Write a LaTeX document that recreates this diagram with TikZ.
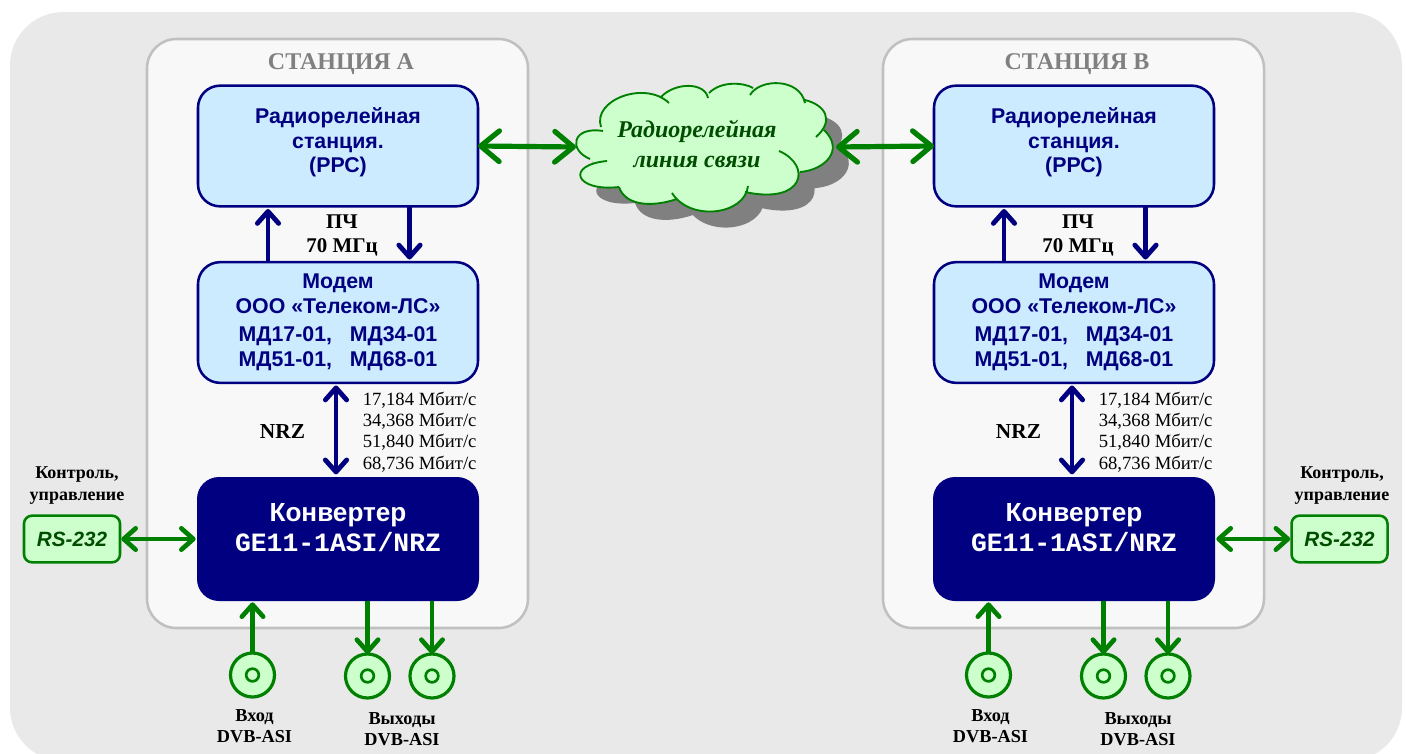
\documentclass[tikz,border=0pt]{standalone}
\usepackage{fontspec}
\setmainfont{Liberation Serif}
\setsansfont{Liberation Sans}
\setmonofont{Liberation Mono}
\usetikzlibrary{calc,arrows.meta}
\definecolor{backgray}{HTML}{E9E9E9}
\definecolor{panelgray}{HTML}{F8F8F8}
\definecolor{panelline}{HTML}{C0C0C0}
\definecolor{boxblue}{HTML}{CCEBFF}
\definecolor{boxnavy}{HTML}{000080}
\definecolor{lightgreen}{HTML}{CCFFCC}
\definecolor{linegreen}{HTML}{008000}
\definecolor{darkgreen}{HTML}{004D00}
\def\fs#1{\fontsize{#1}{#1}\selectfont}
\tikzset{
	unitbox/.style={draw=boxnavy, fill=boxblue, line width=1.9pt, rounded corners=16.5pt, minimum width=210pt, minimum height=90.5pt, outer sep=0pt},
	convbox/.style={fill=boxnavy, rounded corners=16.5pt, minimum width=211.5pt, minimum height=93pt, outer sep=0pt},
	rsbox/.style={draw=linegreen, fill=lightgreen, line width=1.9pt, rounded corners=6pt, minimum width=72pt, minimum height=35pt, outer sep=0pt},
	coaxout/.style={circle, draw=linegreen, fill=lightgreen, line width=2.4pt, minimum size=33pt, inner sep=0pt, outer sep=0pt},
	coaxin/.style={circle, draw=linegreen, line width=2pt, minimum size=9.5pt, inner sep=0pt},
	bluetext/.style={align=center, text=boxnavy, font=\sffamily\bfseries\fs{16pt}, inner sep=0pt},
	labeltext/.style={align=center, font=\bfseries\fs{13.7pt}, inner sep=0pt},
	ratetext/.style={anchor=west, font=\fs{14pt}, inner sep=0pt},
	bluelink/.style={draw=boxnavy, line width=3.6pt},
	greenlink/.style={draw=linegreen, line width=3.5pt},
	biglink/.style={draw=linegreen, line width=3.9pt, {Straight Barb[round,length=14pt,width=23pt]}-{Straight Barb[round,length=14pt,width=23pt]}},
	onetip/.style={-{Straight Barb[round,length=9pt,width=16pt]}},
	twotip/.style={{Straight Barb[round,length=9pt,width=16pt]}-{Straight Barb[round,length=9pt,width=16pt]}}
}
\def\cloudbody{(590,159) -- (601,127) -- (661,97) -- (709,93) -- (753,88) -- (805,100) -- (824,130) -- (800,172) -- (748,192) -- (677,199) -- (619,187) -- cycle}
\def\cloudlobes{
	(590,159) .. controls (568,150) and (572,126) .. (603,131)
	(601,127) .. controls (592,100) and (645,80) .. (669,103)
	(661,97) .. controls (675,82) and (705,82) .. (708,98)
	(709,93) .. controls (722,80) and (745,83) .. (753,88)
	(750,95) .. controls (760,78) and (800,78) .. (805,103)
	(805,100) .. controls (825,105) and (835,120) .. (816,137)
	(824,130) .. controls (845,150) and (825,170) .. (800,172)
	(779,151) .. controls (812,165) and (805,205) .. (745,192)
	(748,186) .. controls (745,215) and (690,222) .. (672,193)
	(677,199) .. controls (650,208) and (625,205) .. (619,187)
	(619,187) .. controls (575,192) and (565,165) .. (607,161)
}
\def\stationblock#1#2#3{
	\begin{scope}[shift={(#1,0)}]
		\draw[fill=panelgray, draw=panelline, line width=1.9pt, rounded corners=22pt] (147,39) rectangle (528,628);
		\node[font=\bfseries\fs{18pt}, text=gray, inner sep=0pt] (#2title) at (341,64.5) {СТАНЦИЯ #3};
		
		\node[unitbox] (#2rrs) at (338,146) {};
		\node[bluetext] (#2rrstext) at (338,142.5) {Радиорелейная\\[2.4pt]станция.\\[2.4pt](РРС)};
		\node[unitbox] (#2modem) at (338,322.5) {};
		\node[bluetext] (#2modemtext) at (338,294) {Модем\\[2.75pt]ООО «Телеком-ЛС»};
		\node[bluetext] (#2modemtype) at (338,348.5) {МД17-01,\ \ \ МД34-01\\[3.2pt]МД51-01,\ \ \ МД68-01};
		\node[convbox] (#2conv) at (338,539) {};
		\node[font=\sffamily\bfseries\fs{19.6pt}, text=white, inner sep=0pt] (#2convname) at (338,515) {Конвертер};
		\node[font=\ttfamily\bfseries\fs{19.8pt}, text=white, inner sep=0pt] (#2convtype) at (338,542) {GE11-1ASI/NRZ};
		
		\node[labeltext, font=\bfseries\fs{15.7pt}] (#2if) at (342,235) {ПЧ\\[2.3pt]70 МГц};
		\node[labeltext, font=\bfseries\fs{16pt}] (#2nrz) at (282.5,432) {NRZ};
		\node[ratetext] (#2rateone) at (362.5,400) {17,184 Мбит/с};
		\node[ratetext] (#2ratetwo) at (362.5,421) {34,368 Мбит/с};
		\node[ratetext] (#2ratethree) at (362.5,442) {51,840 Мбит/с};
		\node[ratetext] (#2ratefour) at (362.5,464) {68,736 Мбит/с};
		
		\draw[bluelink, onetip, shorten >=2pt] ($(#2modem.north)+(-70,0)$) -- ($(#2rrs.south)+(-70,0)$);
		\draw[bluelink, onetip, shorten >=2pt] ($(#2rrs.south)+(71.5,0)$) -- ($(#2modem.north)+(71.5,0)$);
		\draw[bluelink, twotip, shorten <=2pt, shorten >=2pt] ($(#2modem.south)+(-2,0)$) -- ($(#2conv.north)+(-2,0)$);
		
		\node[coaxout] (#2coaxa) at (252.5,675) {};
		\node[coaxin] (#2holea) at (#2coaxa) {};
		\node[coaxout] (#2coaxb) at (367.5,676) {};
		\node[coaxin] (#2holeb) at (#2coaxb) {};
		\node[coaxout] (#2coaxc) at (432,676) {};
		\node[coaxin] (#2holec) at (#2coaxc) {};
		\draw[greenlink, onetip, shorten >=1pt] (#2coaxa.north) -- (#2coaxa.north |- #2conv.south);
		\draw[greenlink, onetip] (#2coaxb.north |- #2conv.south) -- (#2coaxb.north);
		\draw[greenlink, onetip] (#2coaxc.north |- #2conv.south) -- (#2coaxc.north);
		
		\node[labeltext] (#2inlabel) at (254.5,726.5) {Вход\\[2pt]DVB-ASI};
		\node[labeltext] (#2outlabel) at (402,729) {Выходы\\[2pt]DVB-ASI};
	\end{scope}
}

\begin{document}
\begin{tikzpicture}[x=0.75pt, y=-0.75pt]
			%%%%% START %%%%%
			
			\useasboundingbox (0,0) rectangle (1406,753);
			\clip (0,0) rectangle (1406,753);
			\fill[backgray, rounded corners=40pt] (10,12) rectangle (1402,761);
			
			\stationblock{0}{a}{А}
			\stationblock{736}{b}{В}
			
			% cloud
			\fill[gray, shift={(16,16)}] \cloudbody \cloudlobes;
			\fill[lightgreen] \cloudbody \cloudlobes;
			\draw[linegreen, line width=1.4pt] \cloudlobes;
			\node[align=center, text=darkgreen, font=\bfseries\itshape\fs{18pt}, inner sep=0pt] (cloudtext) at (697,143.5) {Радиорелейная\\[4.5pt]линия связи};
			\coordinate (cloudwest) at (576,147);
			\coordinate (cloudeast) at (836,147);
			\draw[biglink] (arrs.east) -- (cloudwest);
			\draw[biglink] (cloudeast) -- (brrs.west);
			
			% control ports
			\node[rsbox] (rsa) at (72,539) {};
			\node[font=\sffamily\bfseries\itshape\fs{15.5pt}, text=darkgreen, inner sep=0pt] (rsatext) at (72,539) {RS-232};
			\node[labeltext, font=\bfseries\fs{13.5pt}] (ctrla) at (77,486) {Контроль,\\[3pt]управление};
			\draw[greenlink, twotip, shorten <=1pt, shorten >=1pt] (rsa.east) -- (aconv.west);
			
			\node[rsbox] (rsb) at (1339.5,539) {};
			\node[font=\sffamily\bfseries\itshape\fs{15.5pt}, text=darkgreen, inner sep=0pt] (rsbtext) at (1339.5,539) {RS-232};
			\node[labeltext, font=\bfseries\fs{13.5pt}] (ctrlb) at (1342,486) {Контроль,\\[3pt]управление};
			\draw[greenlink, twotip, shorten <=1pt, shorten >=1pt] (bconv.east) -- (rsb.west);
			
			%%%%% END %%%%%
\end{tikzpicture}
\end{document}
